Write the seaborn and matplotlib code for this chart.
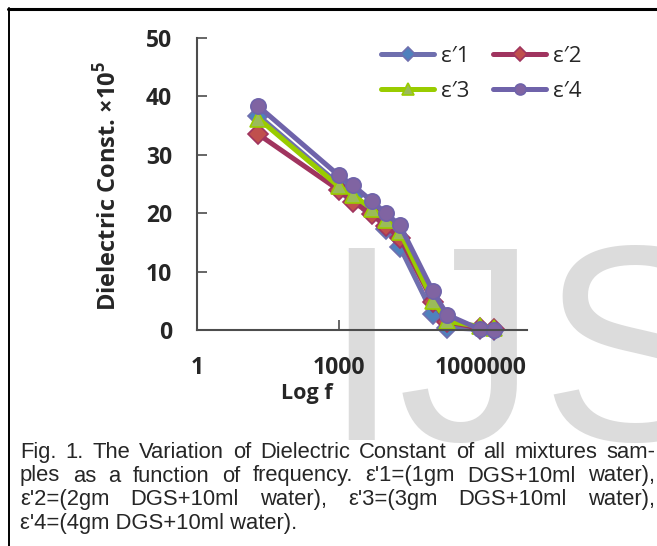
import matplotlib
matplotlib.use('Agg')
import matplotlib.pyplot as plt
from matplotlib.lines import Line2D
import seaborn as sns

# Data
FREQ = [20, 1000, 2000, 5000, 10000, 20000, 100000, 200000, 1000000, 2000000]
E1 = [36.7, 25.0, 23.0, 20.5, 17.3, 14.2, 2.7, 0.4, 0.1, 0.0]
E2 = [33.5, 24.0, 22.0, 19.8, 17.8, 15.8, 4.8, 1.4, 0.3, 0.1]
E3 = [36.2, 24.6, 23.1, 20.8, 18.8, 16.8, 5.0, 1.5, 0.6, 0.4]
E4 = [38.3, 26.5, 24.8, 22.1, 20.0, 17.9, 6.6, 2.6, 0.1, 0.0]

SERIES = ['ε′1', 'ε′2', 'ε′3', 'ε′4']
LINE_COLORS = ['#6F6FAE', '#A0345F', '#99CC00', '#6F63AA']
FACE_COLORS = ['#4F81BD', '#C0504D', '#9BBB59', '#8064A2']
MARKERS = ['D', 'D', '^', 'o']
MARKER_SIZES = [10, 10, 12, 11]

X_TICKS = [1, 1000, 1000000]
X_LABELS = ['1', '1000', '1000000']
Y_TICKS = [0, 10, 20, 30, 40, 50]

CAPTION = [
    "Fig. 1. The Variation of Dielectric Constant of all mixtures sam-",
    "ples as a function of frequency. ε'1=(1gm DGS+10ml water),",
    "ε'2=(2gm DGS+10ml water), ε'3=(3gm DGS+10ml water),",
    "ε'4=(4gm DGS+10ml water).",
]

W, H = 657, 546
BOLD_FONT = ['Open Sans', 'DejaVu Sans']
CAP_FONT = ['Liberation Sans', 'DejaVu Sans']

sns.set_theme(style='white')
plt.rcParams['font.family'] = BOLD_FONT
plt.rcParams['mathtext.fontset'] = 'custom'
plt.rcParams['mathtext.rm'] = 'Open Sans'
plt.rcParams['mathtext.bf'] = 'Open Sans:bold'

fig = plt.figure(figsize=(W / 100, H / 100), dpi=100)
fig.patch.set_facecolor('white')

# watermark letters behind everything
for letter, xpx in [('I', 322), ('J', 398), ('S', 540)]:
    fig.text(xpx / W, 1 - 440 / H, letter, fontsize=201, family=CAP_FONT,
             color='#DCDCDC', ha='left', va='baseline', zorder=-5)

# page frame
fig.add_artist(Line2D([8 / W, 1], [1 - 9 / H, 1 - 9 / H], color='black', lw=2.2))
fig.add_artist(Line2D([9 / W, 9 / W], [0, 1 - 8 / H], color='black', lw=1.4))

ax = fig.add_axes([197 / W, 216 / H, 330.4 / W, 292 / H])
ax.patch.set_visible(False)

for name, ys, lc, fc, mk, ms in zip(SERIES, [E1, E2, E3, E4], LINE_COLORS,
                                     FACE_COLORS, MARKERS, MARKER_SIZES):
    sns.lineplot(x=FREQ, y=ys, ax=ax, color=lc, lw=3.6, marker=mk,
                 markersize=ms, markerfacecolor=fc, markeredgecolor=lc,
                 markeredgewidth=1.2, label=name, clip_on=False)

ax.set_xscale('log')
ax.set_xlim(1, 1e7)
ax.set_ylim(0, 50)
ax.set_xticks(X_TICKS)
ax.set_xticklabels(X_LABELS)
ax.minorticks_off()
ax.set_yticks(Y_TICKS)

for side in ['top', 'right']:
    ax.spines[side].set_visible(False)
for side in ['left', 'bottom']:
    ax.spines[side].set_color('#4D4D4D')
    ax.spines[side].set_linewidth(1.5)

ax.tick_params(axis='both', direction='in', length=7, width=1.2, color='#4D4D4D',
               labelsize=16.5, left=True, bottom=True)
ax.tick_params(axis='y', pad=18)
ax.tick_params(axis='x', pad=19)
for lab in ax.get_xticklabels() + ax.get_yticklabels():
    lab.set_fontweight('bold')

ax.set_xlabel('Log f', fontsize=15.5, fontweight='bold', va='center')
ax.xaxis.set_label_coords((307 - 197) / 330.4, (546 - 393 - 216) / 292)
ax.set_ylabel(r'Dielectric Const. ×10$^{\mathbf{5}}$', fontsize=17,
              fontweight='bold', va='center')
ax.yaxis.set_label_coords((108 - 197) / 330.4, (546 - 186 - 216) / 292)

# legend filled row by row: e1 e2 / e3 e4
handles, labels = ax.get_legend_handles_labels()
order = [0, 2, 1, 3]
ax.legend([handles[i] for i in order], [labels[i] for i in order],
          ncol=2, loc='upper left', bbox_to_anchor=(381 / W, 1 - 46 / H),
          bbox_transform=fig.transFigure, frameon=False, fontsize=16,
          handlelength=2.4, handletextpad=0.3, columnspacing=1.05,
          labelspacing=0.62, borderpad=0, borderaxespad=0, numpoints=1,
          markerscale=0.72)

# caption, justified like the journal text
renderer = fig.canvas.get_renderer()
x0, x1 = 20, 655
probe = fig.text(0, 0, CAPTION[0], fontsize=10, family=CAP_FONT)
cap_size = 10 * 612 / probe.get_window_extent(renderer).width
probe.remove()
baselines = [458, 481.5, 505, 528.5]
for i, line in enumerate(CAPTION):
    y = 1 - baselines[i] / H
    if i == len(CAPTION) - 1:
        fig.text(x0 / W, y, line, fontsize=cap_size, family=CAP_FONT,
                 va='baseline', ha='left', zorder=5)
        continue
    words = line.split(' ')
    widths = []
    for w in words:
        t = fig.text(0, 0, w, fontsize=cap_size, family=CAP_FONT)
        widths.append(t.get_window_extent(renderer).width)
        t.remove()
    gap = (x1 - x0 - sum(widths)) / (len(words) - 1)
    x = x0
    for w, wd in zip(words, widths):
        fig.text(x / W, y, w, fontsize=cap_size, family=CAP_FONT,
                 va='baseline', ha='left', zorder=5)
        x += wd + gap

fig.savefig('out.png', dpi=100)
